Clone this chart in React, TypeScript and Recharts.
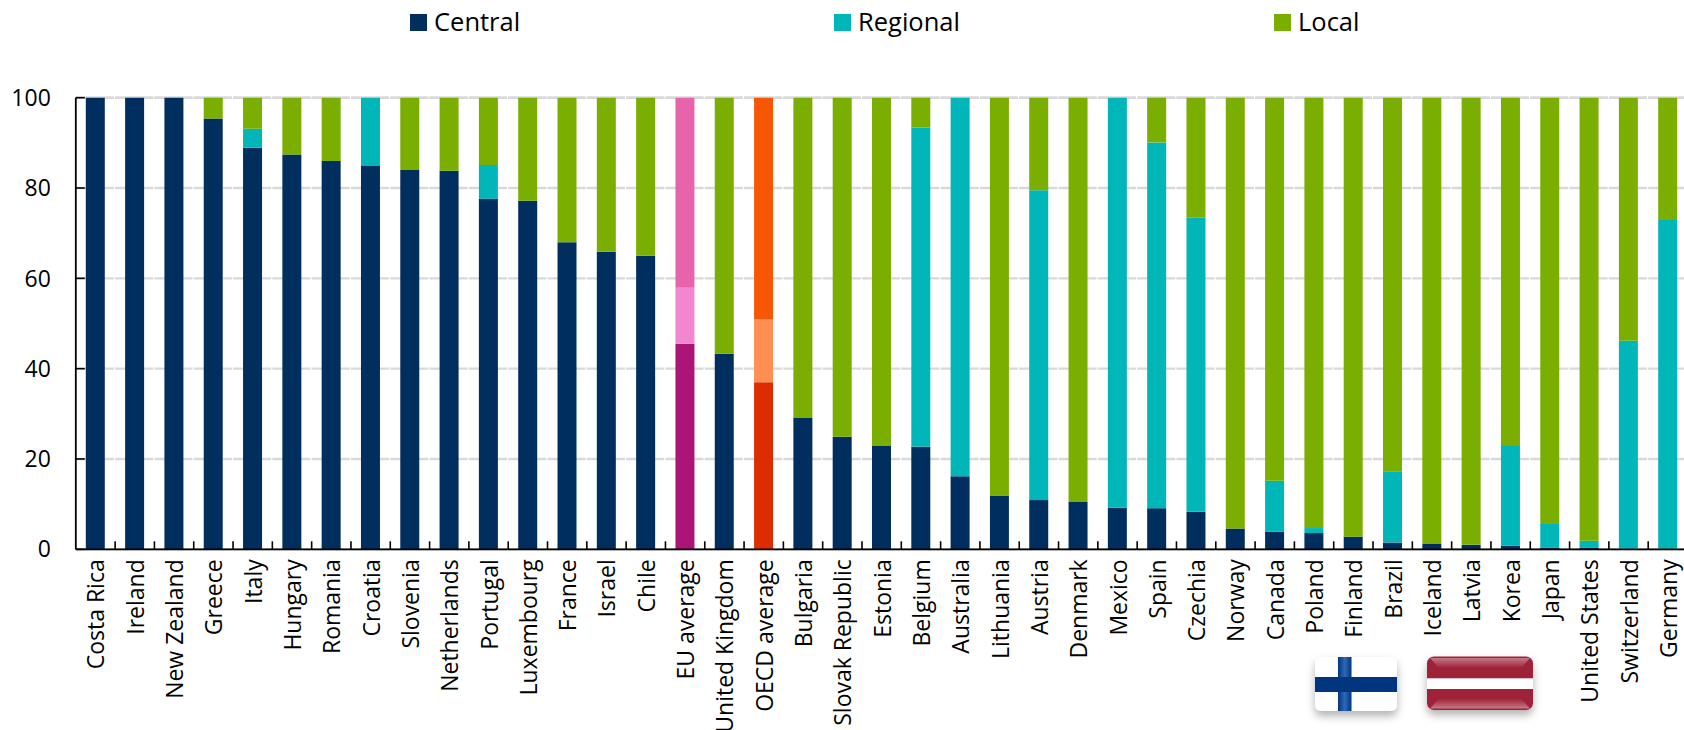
import React from "react";
import { BarChart, Bar, XAxis, YAxis, CartesianGrid, Cell, Legend } from "recharts";

// Share of each government level, in per cent, by country
const countries = [
  "Costa Rica", "Ireland", "New Zealand", "Greece", "Italy", "Hungary", "Romania", "Croatia", "Slovenia",
  "Netherlands", "Portugal", "Luxembourg", "France", "Israel", "Chile", "EU average", "United Kingdom",
  "OECD average", "Bulgaria", "Slovak Republic", "Estonia", "Belgium", "Australia", "Lithuania", "Austria",
  "Denmark", "Mexico", "Spain", "Czechia", "Norway", "Canada", "Poland", "Finland", "Brazil", "Iceland",
  "Latvia", "Korea", "Japan", "United States", "Switzerland", "Germany",
];
const central = [
  100, 100, 100, 95.4, 88.9, 87.4, 86.0, 84.9, 84.0, 83.8, 77.6, 77.2, 68.0, 65.9, 65.0, 45.5, 43.3, 37.0, 29.1,
  24.9, 22.9, 22.7, 16.2, 11.9, 10.9, 10.5, 9.2, 9.1, 8.3, 4.6, 3.9, 3.6, 2.8, 1.5, 1.2, 1.0, 0.8, 0.4, 0.3, 0.1, 0.1,
];
const regional = [
  0, 0, 0, 0, 4.2, 0, 0, 15.1, 0, 0, 7.5, 0, 0, 0, 0, 12.4, 0, 14.0, 0,
  0, 0, 70.7, 83.8, 0, 68.6, 0, 90.8, 81.0, 65.1, 0, 11.3, 1.1, 0, 15.8, 0, 0, 22.1, 5.4, 1.6, 46.1, 72.8,
];
const local = [
  0, 0, 0, 4.6, 6.9, 12.6, 14.0, 0, 16.0, 16.2, 14.9, 22.8, 32.0, 34.1, 35.0, 42.1, 56.7, 49.0, 70.9,
  75.1, 77.1, 6.6, 0, 88.1, 20.5, 89.5, 0, 9.9, 26.6, 95.4, 84.8, 95.3, 97.2, 82.7, 98.8, 99.0, 77.1, 94.2, 98.1, 53.8, 27.1,
];
const yTicks = [0, 20, 40, 60, 80, 100];
const legendItems = [
  { label: "Central", color: "#002F5F", x: 410 },
  { label: "Regional", color: "#00B6B8", x: 834 },
  { label: "Local", color: "#7AAE00", x: 1274 },
];
const averageColors: Record<string, string[]> = {
  "EU average": ["#AB1577", "#F287CF", "#E764AD"],
  "OECD average": ["#DD2D00", "#FF8E52", "#F75705"],
};

const rows = countries.map((name, i) => ({ name, central: central[i], regional: regional[i], local: local[i] }));

const FONT = "'Open Sans', sans-serif";
const PLOT_LEFT = 75.8;
const BAND = 39.31;
const CHART_WIDTH = PLOT_LEFT + BAND * countries.length;

// Country label plus the tick mark on the right boundary of its band
const CountryTick = (props: any) => {
  const { x, y, payload } = props;
  return (
    <g>
      <line x1={x + BAND / 2} x2={x + BAND / 2} y1={y - 8} y2={y} stroke="#000" strokeWidth={1.6} />
      <text
        transform={`translate(${x + 9},${y + 10}) rotate(-90)`}
        textAnchor="end"
        fontFamily={FONT}
        fontSize={23}
        fill="#000"
      >
        {payload.value}
      </text>
    </g>
  );
};

const LevelLegend = () => (
  <div style={{ position: "absolute", left: 0, top: 0, height: 0, width: 0 }}>
    {legendItems.map((item) => (
      <React.Fragment key={item.label}>
        <div style={{ position: "absolute", left: item.x, top: 14, width: 17, height: 17, background: item.color }} />
        <div
          style={{
            position: "absolute",
            left: item.x + 24,
            top: 5,
            fontFamily: FONT,
            fontSize: 25.5,
            lineHeight: "32px",
            color: "#000",
            whiteSpace: "nowrap",
          }}
        >
          {item.label}
        </div>
      </React.Fragment>
    ))}
  </div>
);

// Glossy flag badges for Finland and Latvia
const FlagBadges = () => (
  <svg width={1684} height={730} style={{ position: "absolute", left: 0, top: 0, pointerEvents: "none" }}>
    <defs>
      <filter id="badgeShadow" x="-20%" y="-20%" width="140%" height="150%">
        <feDropShadow dx="0" dy="5" stdDeviation="4" floodColor="#000" floodOpacity="0.3" />
      </filter>
      <linearGradient id="crossGloss" x1="0" y1="0" x2="1" y2="0">
        <stop offset="0" stopColor="#003580" />
        <stop offset="0.5" stopColor="#2f68b5" />
        <stop offset="1" stopColor="#003580" />
      </linearGradient>
      <linearGradient id="sheenDown" x1="0" y1="0" x2="0" y2="1">
        <stop offset="0" stopColor="#fff" stopOpacity="0.4" />
        <stop offset="1" stopColor="#fff" stopOpacity="0" />
      </linearGradient>
      <linearGradient id="sheenUp" x1="0" y1="1" x2="0" y2="0">
        <stop offset="0" stopColor="#fff" stopOpacity="0.4" />
        <stop offset="1" stopColor="#fff" stopOpacity="0" />
      </linearGradient>
    </defs>
    <g>
      <rect x={1315} y={657} width={82} height={54} rx={6} fill="#fff" filter="url(#badgeShadow)" />
      <rect x={1338} y={657} width={13.5} height={54} fill="url(#crossGloss)" />
      <rect x={1315} y={677} width={82} height={15} fill="#003580" />
    </g>
    <g>
      <rect x={1427} y={656.5} width={106} height={53.5} rx={7} fill="#9E2138" filter="url(#badgeShadow)" />
      <path d="M1430 658 H1530 L1521 668 H1439 Z" fill="url(#sheenDown)" />
      <path d="M1430 708.5 H1530 L1521 698.5 H1439 Z" fill="url(#sheenUp)" />
      <rect x={1427} y={678.3} width={106} height={10.7} fill="#fff" />
    </g>
  </svg>
);

export default function App() {
  return (
    <div style={{ position: "absolute", left: 0, top: 0, width: 1684, height: 730, overflow: "hidden", background: "#fff" }}>
      <BarChart
        width={CHART_WIDTH}
        height={730}
        data={rows}
        margin={{ top: 97.7, right: 0, bottom: 0, left: 0 }}
        barCategoryGap={0}
      >
        <CartesianGrid
          horizontal
          vertical={false}
          stroke="#D9D9D9"
          strokeWidth={2.4}
          strokeDasharray={`${BAND - 1.2} 1.2`}
        />
        <XAxis
          dataKey="name"
          interval={0}
          height={180.7}
          axisLine={{ stroke: "#000", strokeWidth: 1.8 }}
          tickLine={false}
          tickSize={0}
          tickMargin={0}
          tick={<CountryTick />}
        />
        <YAxis
          width={PLOT_LEFT}
          domain={[0, 100]}
          ticks={yTicks}
          axisLine={{ stroke: "#000", strokeWidth: 1.8 }}
          tickLine={{ stroke: "#000", strokeWidth: 1.6 }}
          tickSize={-9}
          tickMargin={34}
          tick={{ fontFamily: FONT, fontSize: 23, fill: "#000" }}
        />
        <Legend content={<LevelLegend />} height={0} verticalAlign="top" wrapperStyle={{ left: 0, top: 0, width: 0, height: 0 }} />
        <Bar dataKey="central" stackId="levels" barSize={19} fill="#002F5F" isAnimationActive={false}>
          {rows.map((r) => (
            <Cell key={r.name} fill={averageColors[r.name]?.[0] ?? "#002F5F"} />
          ))}
        </Bar>
        <Bar dataKey="regional" stackId="levels" barSize={19} fill="#00B6B8" isAnimationActive={false}>
          {rows.map((r) => (
            <Cell key={r.name} fill={averageColors[r.name]?.[1] ?? "#00B6B8"} />
          ))}
        </Bar>
        <Bar dataKey="local" stackId="levels" barSize={19} fill="#7AAE00" isAnimationActive={false}>
          {rows.map((r) => (
            <Cell key={r.name} fill={averageColors[r.name]?.[2] ?? "#7AAE00"} />
          ))}
        </Bar>
      </BarChart>
      <FlagBadges />
    </div>
  );
}
